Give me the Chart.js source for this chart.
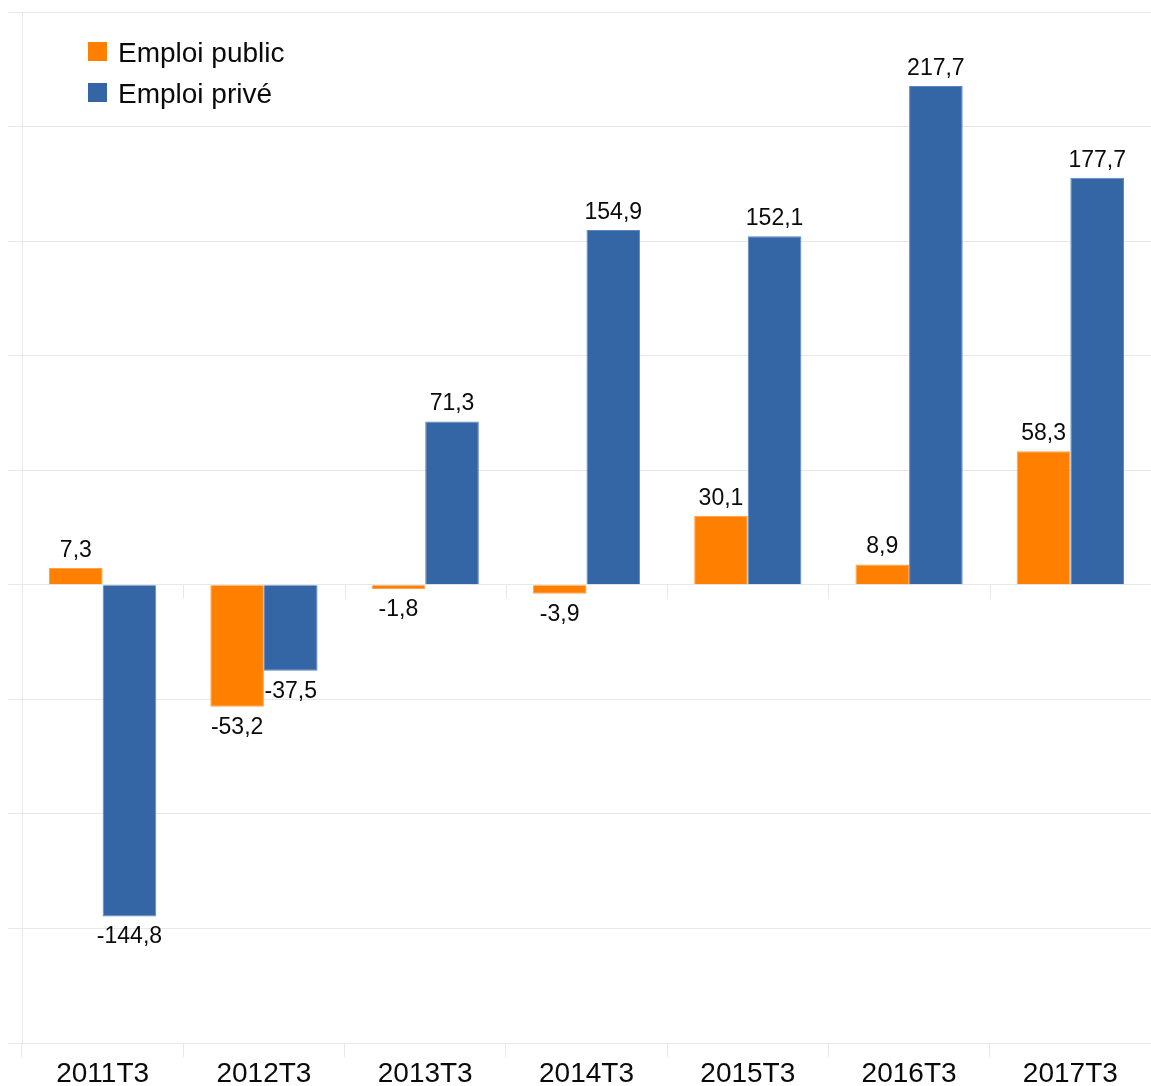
<!DOCTYPE html>
<html>
<head>
<meta charset="utf-8">
<script src="https://cdn.jsdelivr.net/npm/chart.js@4/dist/chart.umd.min.js"></script>
<style>
  html, body { margin: 0; padding: 0; background: #fff; }
  #wrap { width: 1151px; height: 1086px; }
</style>
</head>
<body>
<div id="wrap"><canvas id="chart" width="1151" height="1086"></canvas></div>
<script>
const categories = ['2011T3', '2012T3', '2013T3', '2014T3', '2015T3', '2016T3', '2017T3'];
const emploiPublic = [7.3, -53.2, -1.8, -3.9, 30.1, 8.9, 58.3];
const emploiPrive = [-144.8, -37.5, 71.3, 154.9, 152.1, 217.7, 177.7];
const seriesNames = ['Emploi public', 'Emploi privé'];
const seriesColors = ['#ff8000', '#3465a4'];

const FONT = '"Liberation Sans", Arial, sans-serif';
const GRID = '#e8e8e8';
const INK = '#0a0a0a';

const fmt = v => v.toFixed(1).replace('.', ',');

// value labels above / below each bar
const valueLabels = {
  id: 'valueLabels',
  afterDatasetsDraw(chart) {
    const ctx = chart.ctx;
    ctx.save();
    ctx.font = '23px ' + FONT;
    ctx.fillStyle = INK;
    ctx.textAlign = 'center';
    chart.data.datasets.forEach((ds, i) => {
      chart.getDatasetMeta(i).data.forEach((bar, j) => {
        const v = ds.data[j];
        if (v >= 0) {
          ctx.textBaseline = 'alphabetic';
          ctx.fillText(fmt(v), bar.x, bar.y - 11);
        } else {
          ctx.textBaseline = 'top';
          ctx.fillText(fmt(v), bar.x, bar.y + 9);
        }
      });
    });
    ctx.restore();
  }
};

// small category ticks under the zero line
const zeroTicks = {
  id: 'zeroTicks',
  beforeDatasetsDraw(chart) {
    const { ctx, scales: { x, y } } = chart;
    const y0 = y.getPixelForValue(0);
    const w = x.width / categories.length;
    ctx.save();
    ctx.strokeStyle = GRID;
    ctx.lineWidth = 1;
    for (let k = 1; k < categories.length; k++) {
      const px = Math.round(x.left + w * k) + 0.5;
      ctx.beginPath();
      ctx.moveTo(px, y0);
      ctx.lineTo(px, y0 + 14);
      ctx.stroke();
    }
    ctx.restore();
  }
};

// legend inside the plot, top left
const innerLegend = {
  id: 'innerLegend',
  afterDraw(chart) {
    const ctx = chart.ctx;
    ctx.save();
    ctx.font = '28px ' + FONT;
    ctx.textBaseline = 'middle';
    ctx.textAlign = 'left';
    chart.data.datasets.forEach((ds, i) => {
      const yy = 42 + i * 41;
      ctx.fillStyle = ds.backgroundColor;
      ctx.fillRect(88, yy, 19, 19);
      ctx.fillStyle = INK;
      ctx.fillText(ds.label, 118, yy + 12);
    });
    ctx.restore();
  }
};

new Chart(document.getElementById('chart'), {
  type: 'bar',
  data: {
    labels: categories,
    datasets: [
      {
        label: seriesNames[0],
        data: emploiPublic,
        backgroundColor: seriesColors[0],
        borderColor: '#ffa04a',
        borderWidth: 1
      },
      {
        label: seriesNames[1],
        data: emploiPrive,
        backgroundColor: seriesColors[1],
        borderColor: '#5b86c0',
        borderWidth: 1
      }
    ]
  },
  options: {
    responsive: false,
    animation: false,
    categoryPercentage: 0.665,
    barPercentage: 1.0,
    layout: { padding: { top: 12, left: 0, right: 0, bottom: 0 } },
    plugins: {
      legend: { display: false },
      tooltip: { enabled: false }
    },
    scales: {
      x: {
        grid: {
          offset: true,
          drawOnChartArea: false,
          drawTicks: true,
          tickLength: 14,
          color: GRID
        },
        border: { display: true, color: GRID },
        ticks: {
          color: INK,
          padding: 0,
          maxRotation: 0,
          font: { family: FONT, size: 28 }
        },
        afterFit(scale) { scale.height = 43; }
      },
      y: {
        min: -200,
        max: 250,
        ticks: { stepSize: 50, display: false },
        grid: { color: GRID, tickLength: 14, drawTicks: true },
        border: { display: true, color: GRID },
        afterFit(scale) { scale.width = 22; }
      }
    }
  },
  plugins: [zeroTicks, valueLabels, innerLegend]
});
</script>
</body>
</html>
